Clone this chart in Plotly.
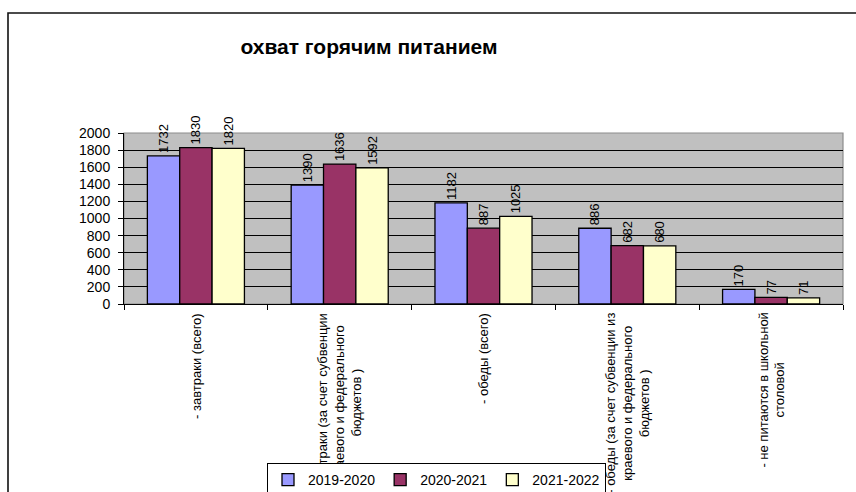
import plotly.graph_objects as go

categories = [
    "- завтраки (всего)",
    "- завтраки (за счет субвенции краевого и федерального бюджетов )",
    "- обеды (всего)",
    "- обеды (за счет субвенции из краевого и федерального бюджетов )",
    "- не питаются в школьной столовой",
]
category_labels = [
    "- завтраки (всего)",
    "- завтраки (за счет субвенции<br>краевого и федерального<br>бюджетов )",
    "- обеды (всего)",
    "- обеды (за счет субвенции из<br>краевого и федерального<br>бюджетов )",
    "- не питаются в школьной<br>столовой",
]
series_names = ["2019-2020", "2020-2021", "2021-2022"]
values_2019_2020 = [1732, 1390, 1182, 886, 170]
values_2020_2021 = [1830, 1636, 887, 682, 77]
values_2021_2022 = [1820, 1592, 1025, 680, 71]
y_ticks = [0, 200, 400, 600, 800, 1000, 1200, 1400, 1600, 1800, 2000]
title_text = "охват горячим питанием"

colors = ["#9999FF", "#993366", "#FFFFCC"]
FONT = "Arial, Liberation Sans, sans-serif"

W, H = 856, 492
L, R, T, B = 124, 13, 133, 188
pw, ph = W - L - R, H - T - B

def px_x(p):
    return (p - L) / pw

def px_y(p):
    return (H - B - p) / ph

fig = go.Figure()
for name, vals, col in zip(series_names,
                           [values_2019_2020, values_2020_2021, values_2021_2022],
                           colors):
    fig.add_trace(go.Bar(
        x=categories, y=vals, name=name,
        marker=dict(color=col, line=dict(color="black", width=1.3)),
        text=[str(v) for v in vals],
        textposition="outside",
        textangle=-90,
        textfont=dict(family=FONT, size=13, color="black"),
        cliponaxis=False,
        constraintext="none",
    ))

for cat, lab in zip(categories, category_labels):
    fig.add_annotation(
        x=cat, y=0, xref="x", yref="y",
        text=lab, showarrow=False, textangle=-90,
        xanchor="center", yanchor="top", yshift=-7, align="center",
        font=dict(family=FONT, size=13, color="black"),
    )

# outer chart border
fig.add_shape(type="rect", xref="paper", yref="paper",
              x0=px_x(8), x1=px_x(880), y0=px_y(520), y1=px_y(13),
              line=dict(color="#111", width=1.6), fillcolor="rgba(0,0,0,0)",
              layer="below")
# plot area border (grey)
fig.add_shape(type="rect", xref="paper", yref="paper",
              x0=0, x1=1, y0=0, y1=1,
              line=dict(color="#8c8c8c", width=1.2), fillcolor="rgba(0,0,0,0)",
              layer="below")

fig.update_layout(
    width=W, height=H,
    margin=dict(l=L, r=R, t=T, b=B, autoexpand=False),
    paper_bgcolor="white",
    plot_bgcolor="#C0C0C0",
    barmode="group",
    bargap=0.325,
    bargroupgap=0,
    title=dict(text="<b>" + title_text + "</b>", x=369 / W, y=1 - 47 / H,
               xanchor="center", yanchor="middle",
               font=dict(family=FONT, size=21, color="black")),
    showlegend=True,
    legend=dict(orientation="h", x=px_x(267), y=px_y(463),
                xanchor="left", yanchor="top",
                bgcolor="white", bordercolor="black", borderwidth=1,
                font=dict(family=FONT, size=14, color="black"),
                traceorder="normal", itemwidth=30),
    font=dict(family=FONT, color="black"),
)
fig.update_xaxes(
    type="category", showgrid=False, showticklabels=False,
    tickson="boundaries", ticks="outside", ticklen=5, tickcolor="black",
    showline=True, linecolor="black", linewidth=1,
    range=[-0.5, 4.5],
)
fig.update_yaxes(
    range=[0, 2000], tickvals=y_ticks, ticktext=[str(v) for v in y_ticks],
    showgrid=True, gridcolor="black", gridwidth=1,
    ticks="outside", ticklen=5, tickcolor="black",
    showline=True, linecolor="black", linewidth=1,
    zeroline=False, ticklabelstandoff=5,
    tickfont=dict(family=FONT, size=14, color="black"),
)

post = """
var gd = document.getElementById('{plot_id}');
function raise(){
  var leg = gd.querySelector('g.legend');
  if (leg && leg.parentNode) { leg.parentNode.appendChild(leg); }
}
raise();
gd.on && gd.on('plotly_afterplot', raise);
document.body.style.margin = '0';
"""
fig.write_html("out.html", post_script=post, config={"displayModeBar": False})
